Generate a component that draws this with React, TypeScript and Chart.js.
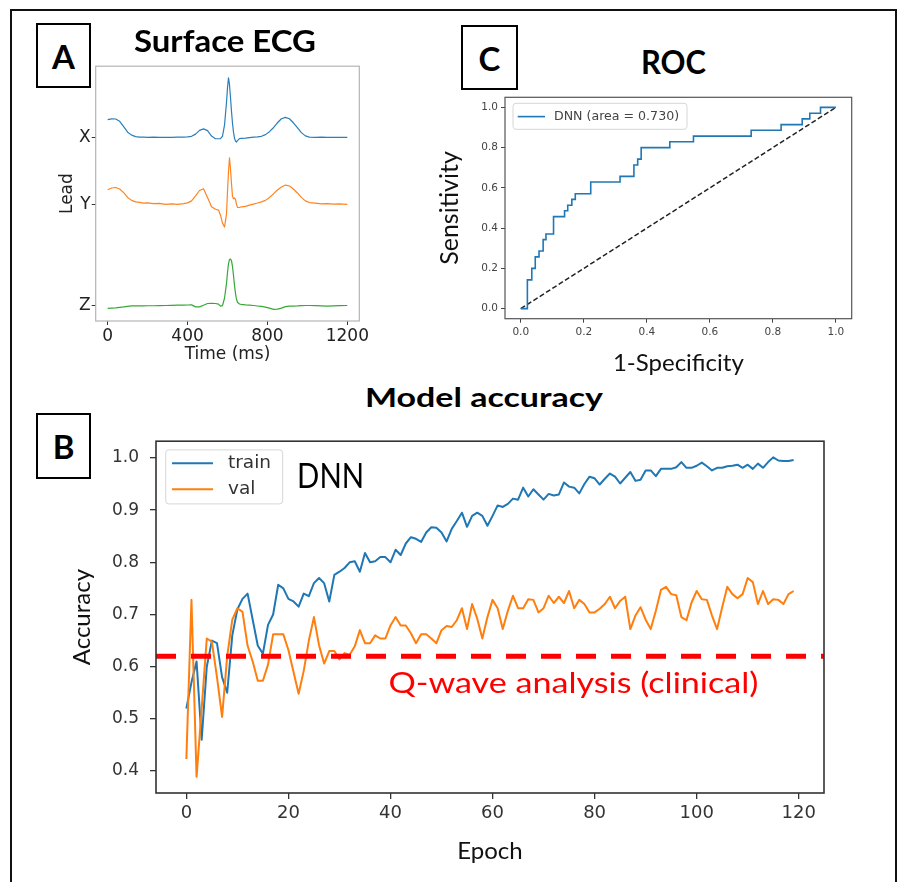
import React, { useEffect, useRef } from 'react';
import { Chart, registerables } from 'chart.js';
Chart.register(...registerables);

// ---------------- Panel A: surface ECG ----------------
const ecgTime = [0, 20, 40, 60, 80, 100, 120, 140, 160, 180, 200, 230, 260, 290, 320, 350, 380, 400, 420, 440, 460, 480, 500, 520, 540, 555, 565, 575, 585, 595, 600, 605, 610, 615, 620, 625, 630, 635, 640, 645, 650, 660, 670, 690, 710, 730, 750, 770, 790, 810, 830, 850, 870, 890, 910, 930, 950, 970, 990, 1010, 1040, 1070, 1100, 1130, 1160, 1200];
const leadX = [18.77, 18.85, 18.83, 18.6, 18.05, 17.5, 17.2, 17.05, 17.0, 17.0, 16.98, 17.0, 16.97, 16.98, 16.97, 17.0, 17.0, 17.02, 17.08, 17.3, 17.68, 17.83, 17.65, 17.1, 16.83, 16.83, 16.85, 17.1, 18.2, 20.5, 22.0, 23.0, 22.3, 21.0, 19.6, 18.4, 17.5, 16.9, 16.6, 16.5, 16.65, 16.85, 16.88, 16.9, 16.95, 17.0, 17.02, 17.08, 17.25, 17.55, 17.95, 18.45, 18.85, 19.0, 18.85, 18.45, 17.95, 17.45, 17.12, 17.0, 16.98, 17.0, 16.97, 16.98, 16.97, 16.97];
const leadY = [11.67, 11.85, 11.9, 11.75, 11.38, 10.9, 10.6, 10.45, 10.4, 10.33, 10.35, 10.28, 10.3, 10.2, 10.25, 10.2, 10.28, 10.35, 10.55, 11.05, 11.6, 11.78, 10.9, 9.95, 9.7, 9.62, 9.1, 8.3, 7.9, 9.2, 11.5, 13.5, 14.9, 13.8, 12.3, 11.0, 10.75, 10.85, 10.7, 10.2, 9.9, 9.88, 9.95, 10.0, 10.12, 10.22, 10.33, 10.45, 10.6, 10.9, 11.25, 11.65, 11.95, 12.15, 12.05, 11.75, 11.35, 10.9, 10.55, 10.38, 10.32, 10.25, 10.28, 10.22, 10.25, 10.2];
const leadZ = [-0.33, -0.3, -0.27, -0.22, -0.18, -0.12, -0.08, -0.07, -0.07, -0.07, -0.06, -0.06, -0.04, -0.03, -0.02, 0.0, 0.0, 0.02, 0.03, -0.17, -0.17, 0.0, 0.17, 0.18, 0.17, 0.1, -0.1, -0.05, 0.7, 2.2, 3.3, 4.2, 4.6, 4.67, 4.5, 3.9, 3.0, 2.0, 1.2, 0.6, 0.3, 0.12, 0.08, 0.03, 0.0, -0.03, -0.08, -0.13, -0.2, -0.3, -0.42, -0.4, -0.3, -0.15, -0.1, -0.1, -0.08, -0.05, -0.03, -0.03, -0.05, -0.08, -0.1, -0.08, -0.05, -0.03];
const leadTickValues = [0, 10.2, 17];
const leadTickLabels = ['Z', 'Y', 'X'];
const timeTicks = [0, 400, 800, 1200];

// ---------------- Panel C: ROC ----------------
const rocFpr = [0, 0.021, 0.035, 0.046, 0.058, 0.071, 0.08, 0.104, 0.139, 0.149, 0.162, 0.173, 0.222, 0.315, 0.359, 0.371, 0.382, 0.473, 0.548, 0.731, 0.826, 0.893, 0.917, 0.951, 1.0];
const rocTpr = [0, 0.143, 0.2, 0.257, 0.286, 0.343, 0.371, 0.457, 0.486, 0.514, 0.543, 0.571, 0.629, 0.657, 0.714, 0.743, 0.8, 0.829, 0.857, 0.886, 0.914, 0.943, 0.971, 1.0, 1.0];
const chanceLine = [0, 1];
const rocTicks = [0, 0.2, 0.4, 0.6, 0.8, 1.0];
const rocLabel = 'DNN (area = 0.730)';

// ---------------- Panel B: model accuracy ----------------
const trainAcc = [
  0.52, 0.57, 0.61, 0.46, 0.60, 0.65, 0.645, 0.58, 0.55, 0.66,
  0.71, 0.73, 0.74, 0.69, 0.64, 0.625, 0.68, 0.70, 0.757, 0.75,
  0.73, 0.725, 0.715, 0.74, 0.735, 0.76, 0.77, 0.76, 0.725, 0.776,
  0.782, 0.789, 0.80, 0.802, 0.782, 0.818, 0.80, 0.802, 0.81, 0.81,
  0.80, 0.824, 0.814, 0.836, 0.848, 0.845, 0.839, 0.857, 0.867, 0.866,
  0.857, 0.84, 0.864, 0.879, 0.895, 0.868, 0.889, 0.895, 0.889, 0.87,
  0.889, 0.909, 0.906, 0.912, 0.922, 0.92, 0.943, 0.926, 0.94, 0.93,
  0.92, 0.931, 0.928, 0.93, 0.953, 0.945, 0.943, 0.932, 0.95, 0.964,
  0.961, 0.949, 0.96, 0.97, 0.964, 0.951, 0.962, 0.973, 0.956, 0.958,
  0.976, 0.976, 0.965, 0.979, 0.979, 0.979, 0.982, 0.992, 0.981, 0.981,
  0.985, 0.991, 0.984, 0.976, 0.981, 0.981, 0.984, 0.985, 0.987, 0.981,
  0.987, 0.979, 0.989, 0.981, 0.992, 1.001, 0.995, 0.994, 0.994, 0.996,
];
const valAcc = [
  0.423, 0.728, 0.389, 0.52, 0.654, 0.648, 0.58, 0.504, 0.62, 0.69,
  0.712, 0.705, 0.64, 0.61, 0.573, 0.573, 0.604, 0.662, 0.662, 0.662,
  0.632, 0.59, 0.548, 0.592, 0.65, 0.695, 0.641, 0.606, 0.63, 0.63,
  0.614, 0.626, 0.623, 0.639, 0.67, 0.645, 0.645, 0.66, 0.654, 0.654,
  0.679, 0.695, 0.679, 0.679, 0.664, 0.645, 0.662, 0.662, 0.654, 0.645,
  0.67, 0.678, 0.676, 0.689, 0.712, 0.672, 0.72, 0.692, 0.654, 0.695,
  0.728, 0.712, 0.672, 0.707, 0.736, 0.712, 0.712, 0.729, 0.728, 0.704,
  0.712, 0.736, 0.722, 0.734, 0.722, 0.745, 0.712, 0.728, 0.72, 0.704,
  0.704, 0.711, 0.72, 0.734, 0.712, 0.726, 0.734, 0.672, 0.698, 0.714,
  0.69, 0.672, 0.707, 0.747, 0.753, 0.739, 0.737, 0.695, 0.689, 0.723,
  0.745, 0.729, 0.728, 0.698, 0.672, 0.714, 0.753, 0.739, 0.731, 0.739,
  0.77, 0.762, 0.72, 0.745, 0.72, 0.729, 0.728, 0.72, 0.739, 0.745,
];
const clinicalAccuracy = 0.62;
const epochTicks = [0, 20, 40, 60, 80, 100, 120];
const accTicks = [0.4, 0.5, 0.6, 0.7, 0.8, 0.9, 1.0];

// ---------------- plugins ----------------
const framePlugin = {
  id: 'frame',
  afterDatasetsDraw(chart: any, _a: any, o: any) {
    const { ctx, chartArea: c } = chart;
    ctx.save();
    ctx.strokeStyle = o.color || '#333';
    ctx.lineWidth = o.width || 1;
    ctx.strokeRect(c.left, c.top, c.right - c.left, c.bottom - c.top);
    ctx.restore();
  },
};

const boxLegendPlugin = {
  id: 'boxLegend',
  afterDraw(chart: any, _a: any, o: any) {
    if (!o || !o.items) return;
    const { ctx, chartArea: c } = chart;
    const x0 = c.left + o.dx;
    const y0 = c.top + o.dy;
    ctx.save();
    ctx.beginPath();
    const r = 3;
    ctx.moveTo(x0 + r, y0);
    ctx.arcTo(x0 + o.w, y0, x0 + o.w, y0 + o.h, r);
    ctx.arcTo(x0 + o.w, y0 + o.h, x0, y0 + o.h, r);
    ctx.arcTo(x0, y0 + o.h, x0, y0, r);
    ctx.arcTo(x0, y0, x0 + o.w, y0, r);
    ctx.closePath();
    ctx.fillStyle = 'rgba(255,255,255,0.85)';
    ctx.fill();
    ctx.strokeStyle = '#d6d6d6';
    ctx.lineWidth = 1;
    ctx.stroke();
    o.items.forEach((label: string, i: number) => {
      const ds = chart.data.datasets.find((d: any) => d.label === label);
      const y = y0 + o.rows[i];
      ctx.beginPath();
      ctx.moveTo(x0 + o.lineX, y);
      ctx.lineTo(x0 + o.lineX + o.lineLen, y);
      ctx.strokeStyle = ds ? ds.borderColor : '#000';
      ctx.lineWidth = o.lineWidth;
      ctx.stroke();
      ctx.font = o.font;
      ctx.fillStyle = o.color;
      ctx.textBaseline = 'middle';
      ctx.textAlign = 'left';
      ctx.fillText(label, x0 + o.textX, y);
    });
    ctx.restore();
  },
};

const notesPlugin = {
  id: 'notes',
  afterDatasetsDraw(chart: any, _a: any, o: any) {
    if (!o || !o.items) return;
    const { ctx } = chart;
    const xs = chart.scales.x;
    const ys = chart.scales.y;
    o.items.forEach((n: any) => {
      ctx.save();
      ctx.font = n.font;
      ctx.fillStyle = n.color;
      ctx.textBaseline = 'alphabetic';
      ctx.textAlign = 'left';
      const w = ctx.measureText(n.text).width;
      const sx = n.width && w > 0 ? n.width / w : 1;
      ctx.translate(xs.getPixelForValue(n.x), ys.getPixelForValue(n.y));
      ctx.scale(sx, 1);
      ctx.fillText(n.text, 0, 0);
      ctx.restore();
    });
  },
};

const baseOpts = (padding: any) => ({
  responsive: false,
  animation: false as const,
  events: [] as any[],
  layout: { padding },
});

function makeEcg(canvas: HTMLCanvasElement) {
  const pts = (arr: number[]) => ecgTime.map((t, i) => ({ x: t, y: arr[i] }));
  const line = { pointRadius: 0, borderWidth: 1.2, borderJoinStyle: 'round', fill: false };
  return new Chart(canvas, {
    type: 'line',
    data: {
      datasets: [
        { label: 'X', data: pts(leadX), borderColor: '#2a7fba', ...line },
        { label: 'Y', data: pts(leadY), borderColor: '#ff8420', ...line },
        { label: 'Z', data: pts(leadZ), borderColor: '#36a836', ...line },
      ] as any,
    },
    options: {
      ...baseOpts({ top: 8.3, right: 40.7, left: 0, bottom: 0 }),
      plugins: { legend: { display: false }, tooltip: { enabled: false }, frame: { color: '#b4b4b4', width: 1.2 } } as any,
      scales: {
        x: {
          type: 'linear', min: -60, max: 1260,
          afterBuildTicks: (s: any) => { s.ticks = timeTicks.map((v) => ({ value: v })); },
          afterFit: (s: any) => { s.height = 54; },
          ticks: { autoSkip: false, maxRotation: 0, padding: 1, color: '#222', font: { family: 'DejaVu Sans', size: 17 }, callback: (v: any) => String(v) },
          grid: { drawOnChartArea: false, tickLength: 4, color: '#333' },
          border: { display: false },
          title: { display: true, text: 'Time (ms)', color: '#222', font: { family: 'DejaVu Sans', size: 17 }, padding: { top: 0, bottom: 10.5 } },
        },
        y: {
          type: 'linear', min: -1.6, max: 24.17,
          afterBuildTicks: (s: any) => { s.ticks = leadTickValues.map((v) => ({ value: v })); },
          afterFit: (s: any) => { s.width = 75.7; },
          ticks: { autoSkip: false, padding: 1, color: '#222', font: { family: 'DejaVu Sans', size: 17 }, callback: (v: any) => leadTickLabels[leadTickValues.indexOf(v)] ?? '' },
          grid: { drawOnChartArea: false, tickLength: 4, color: '#333' },
          border: { display: false },
          title: { display: true, text: 'Lead', color: '#222', font: { family: 'DejaVu Sans', size: 17 }, padding: { top: 37, bottom: 0 } },
        },
      } as any,
    },
    plugins: [framePlugin],
  } as any);
}

function makeRoc(canvas: HTMLCanvasElement) {
  return new Chart(canvas, {
    type: 'line',
    data: {
      datasets: [
        { label: rocLabel, data: rocFpr.map((x, i) => ({ x, y: rocTpr[i] })), borderColor: '#1f77b4', borderWidth: 1.6, pointRadius: 0, stepped: 'before' },
        { label: 'chance', data: chanceLine.map((v) => ({ x: v, y: v })), borderColor: '#222', borderWidth: 1.5, borderDash: [5, 2.5], pointRadius: 0 },
      ] as any,
    },
    options: {
      ...baseOpts({ top: 6.7, right: 38.3, left: 0, bottom: 0 }),
      plugins: {
        legend: { display: false }, tooltip: { enabled: false },
        frame: { color: '#555', width: 1.2 },
        boxLegend: { items: [rocLabel], dx: 8, dy: 6, w: 174, h: 26, rows: [13.3], lineX: 4.7, lineLen: 27.3, lineWidth: 1.6, textX: 41, font: '12.6px "DejaVu Sans"', color: '#444' },
      } as any,
      scales: {
        x: {
          type: 'linear', min: -0.05, max: 1.05,
          afterBuildTicks: (s: any) => { s.ticks = rocTicks.map((v) => ({ value: v })); },
          afterFit: (s: any) => { s.height = 61.3; },
          ticks: { autoSkip: false, maxRotation: 0, padding: 3, color: '#444', font: { family: 'DejaVu Sans', size: 10.5 }, callback: (v: any) => Number(v).toFixed(1) },
          grid: { drawOnChartArea: false, tickLength: 4, color: '#444' },
          border: { display: false },
          title: { display: true, text: '1-Specificity', color: '#111', font: { family: 'Lato', size: 24 }, padding: { top: 0, bottom: 2.2 } },
        },
        y: {
          type: 'linear', min: -0.05, max: 1.05,
          afterBuildTicks: (s: any) => { s.ticks = rocTicks.map((v) => ({ value: v })); },
          afterFit: (s: any) => { s.width = 75; },
          ticks: { autoSkip: false, padding: 3, color: '#444', font: { family: 'DejaVu Sans', size: 10.5 }, callback: (v: any) => Number(v).toFixed(1) },
          grid: { drawOnChartArea: false, tickLength: 4, color: '#444' },
          border: { display: false },
          title: { display: true, text: 'Sensitivity', color: '#111', font: { family: 'Lato', size: 25 }, padding: { top: 5, bottom: 0 } },
        },
      } as any,
    },
    plugins: [framePlugin, boxLegendPlugin],
  } as any);
}

function makeAccuracy(canvas: HTMLCanvasElement) {
  const xMin = -5.95;
  const xMax = 124.95;
  const series = (arr: number[]) => arr.map((v, i) => ({ x: i, y: v }));
  return new Chart(canvas, {
    type: 'line',
    data: {
      datasets: [
        { label: 'Q-wave analysis (clinical)', data: [{ x: xMin, y: clinicalAccuracy }, { x: xMax, y: clinicalAccuracy }], borderColor: '#ff0000', borderWidth: 5, borderDash: [20, 15], pointRadius: 0 },
        { label: 'val', data: series(valAcc), borderColor: '#ff7f0e', borderWidth: 2, pointRadius: 0, borderJoinStyle: 'round' },
        { label: 'train', data: series(trainAcc), borderColor: '#1f77b4', borderWidth: 2, pointRadius: 0, borderJoinStyle: 'round' },
      ] as any,
    },
    options: {
      ...baseOpts({ top: 12, right: 66, left: 0, bottom: 0 }),
      plugins: {
        legend: { display: false }, tooltip: { enabled: false },
        frame: { color: '#333', width: 1.6 },
        boxLegend: { items: ['train', 'val'], dx: 9.7, dy: 8.7, w: 117, h: 54, rows: [13.3, 39.3], lineX: 6.3, lineLen: 41, lineWidth: 2, textX: 62.3, font: '18.5px "DejaVu Sans"', color: '#333' },
        notes: {
          items: [
            { text: 'DNN', x: 21.7, y: 0.942, font: '34px Lato', color: '#000', width: 67 },
            { text: 'Q-wave analysis (clinical)', x: 39.6, y: 0.55, font: '28px Lato', color: '#ff0000', width: 370 },
          ],
        },
      } as any,
      scales: {
        x: {
          type: 'linear', min: xMin, max: xMax,
          afterBuildTicks: (s: any) => { s.ticks = epochTicks.map((v) => ({ value: v })); },
          afterFit: (s: any) => { s.height = 89; },
          ticks: { autoSkip: false, maxRotation: 0, padding: 4, color: '#333', font: { family: 'DejaVu Sans', size: 18 }, callback: (v: any) => String(v) },
          grid: { drawOnChartArea: false, tickLength: 6, color: '#333', lineWidth: 1.3 },
          border: { display: false },
          title: { display: true, text: 'Epoch', color: '#111', font: { family: 'Lato', size: 24 }, padding: { top: 0, bottom: 16.2 } },
        },
        y: {
          type: 'linear', min: 0.358, max: 1.032,
          afterBuildTicks: (s: any) => { s.ticks = accTicks.map((v) => ({ value: v })); },
          afterFit: (s: any) => { s.width = 136; },
          ticks: { autoSkip: false, padding: 11, color: '#333', font: { family: 'DejaVu Sans', size: 17 }, callback: (v: any) => Number(v).toFixed(1) },
          grid: { drawOnChartArea: false, tickLength: 6, color: '#333', lineWidth: 1.3 },
          border: { display: false },
          title: { display: true, text: 'Accuracy', color: '#111', font: { family: 'Lato', size: 24 }, padding: { top: 47.6, bottom: 0 } },
        },
      } as any,
    },
    plugins: [framePlugin, boxLegendPlugin, notesPlugin],
  } as any);
}

function FitText({ text, left, width, baseline, size, weight = 700, color = '#000' }: any) {
  let sx = 1;
  const c = document.createElement('canvas').getContext('2d');
  if (c) {
    c.font = `${weight} ${size}px Lato`;
    const m = c.measureText(text).width;
    if (m > 0) sx = width / m;
  }
  return (
    <div
      style={{
        position: 'absolute', left, top: baseline - 0.887 * size,
        fontFamily: 'Lato', fontSize: size, fontWeight: weight, lineHeight: `${size}px`,
        whiteSpace: 'nowrap', color, transform: `scaleX(${sx})`, transformOrigin: '0 0',
      }}
    >
      {text}
    </div>
  );
}

function LetterBox({ letter, left, top, width, height }: any) {
  return (
    <div
      style={{
        position: 'absolute', left, top, width, height, boxSizing: 'border-box',
        border: '2px solid #000', display: 'flex', alignItems: 'center', justifyContent: 'center',
        fontFamily: 'Lato', fontWeight: 700, fontSize: 33, color: '#000', background: '#fff',
      }}
    >
      {letter}
    </div>
  );
}

export default function App() {
  const aRef = useRef<HTMLCanvasElement>(null);
  const bRef = useRef<HTMLCanvasElement>(null);
  const cRef = useRef<HTMLCanvasElement>(null);

  useEffect(() => {
    const charts: Chart[] = [];
    if (aRef.current) charts.push(makeEcg(aRef.current));
    if (cRef.current) charts.push(makeRoc(cRef.current));
    if (bRef.current) charts.push(makeAccuracy(bRef.current));
    return () => charts.forEach((c) => c.destroy());
  }, []);

  return (
    <div style={{ position: 'absolute', left: 0, top: 0, width: 900, height: 882, overflow: 'hidden', background: '#fff' }}>
      <div style={{ position: 'absolute', left: 10, top: 9, width: 887, height: 900, boxSizing: 'border-box', border: '2px solid #111' }} />
      <canvas ref={aRef} width={380} height={320} style={{ position: 'absolute', left: 20, top: 55, width: 380, height: 320 }} />
      <canvas ref={cRef} width={460} height={292} style={{ position: 'absolute', left: 430, top: 88, width: 460, height: 292 }} />
      <canvas ref={bRef} width={870} height={462} style={{ position: 'absolute', left: 20, top: 420, width: 870, height: 462 }} />
      <LetterBox letter="A" left={36} top={23} width={55} height={65} />
      <LetterBox letter="C" left={461} top={25} width={57} height={65} />
      <LetterBox letter="B" left={36} top={413} width={55} height={66} />
      <FitText text="Surface ECG" left={134} width={182} baseline={52} size={31} />
      <FitText text="ROC" left={641} width={65} baseline={74} size={32} />
      <FitText text="Model accuracy" left={365} width={238} baseline={407} size={27} />
    </div>
  );
}
